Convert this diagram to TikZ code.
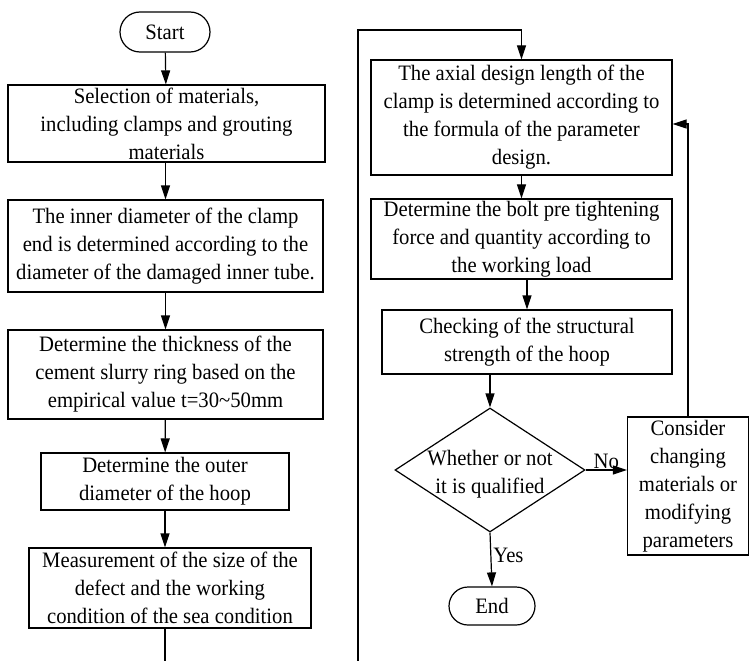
\documentclass[tikz,border=0pt]{standalone}
\usepackage{fontspec}
\setmainfont[FakeStretch=0.94]{Liberation Serif}
\usetikzlibrary{arrows.meta}
\usetikzlibrary{shapes.geometric, shapes.misc}
\tikzset{
	mytext/.style={font=\fontsize{22}{28}\selectfont},
	mybox/.style={draw, rectangle, align=center, inner sep=2pt, mytext},
	myterm/.style={draw, rounded rectangle, minimum width=94pt, minimum height=40pt, inner sep=2pt, mytext},
	mydecision/.style={draw, diamond, minimum width=190pt, minimum height=124pt, inner sep=0pt},
	myarrow/.style={-{Triangle[length=14pt, width=9pt]}}
}

\begin{document}
\begin{tikzpicture}[x=1pt, y=-1pt, line width=1.2pt]
	\useasboundingbox (0, 0) rectangle (750, 661);
	% left column
	\node[myterm] (start) at (165, 32) {Start};
	\node[mybox, minimum width=317pt, minimum height=77pt] (sel) at (166.5, 123.5)
		{Selection of materials,\\including clamps and grouting\\materials};
	\node[mybox, minimum width=315pt, minimum height=92pt] (inner) at (165.5, 246)
		{The inner diameter of the clamp\\end is determined according to the\\diameter of the damaged inner tube.};
	\node[mybox, minimum width=315pt, minimum height=89pt] (thick) at (165.5, 374.5)
		{Determine the thickness of the\\cement slurry ring based on the\\empirical value t=30\textasciitilde50mm};
	\node[mybox, minimum width=248pt, minimum height=57pt] (outer) at (165, 481.5)
		{Determine the outer\\diameter of the hoop};
	\node[mybox, minimum width=282pt, minimum height=80pt] (meas) at (170, 588)
		{Measurement of the size of the\\defect and the working\\condition of the sea condition};
	\coordinate (lend) at (165, 661);
	% right column
	\coordinate (rstart) at (358, 661);
	\coordinate (rtop) at (358, 30);
	\node[mybox, minimum width=301pt, minimum height=115pt] (axial) at (521.5, 117.5)
		{The axial design length of the\\clamp is determined according to\\the formula of the parameter\\design.};
	\node[mybox, minimum width=301pt, minimum height=78pt] (bolt) at (521.5, 239)
		{Determine the bolt pre tightening\\force and quantity according to\\the working load};
	\node[mybox, minimum width=290pt, minimum height=64pt] (check) at (527, 342)
		{Checking of the structural\\strength of the hoop};
	\node[mydecision, label={[mytext, align=center, yshift=-4pt]center:Whether or not\\it is qualified}] (qual) at (490, 470) {};
	\node[mybox, minimum width=121pt, minimum height=138pt] (modify) at (688, 486)
		{Consider\\changing\\materials or\\modifying\\parameters};
	\node[myterm, minimum width=90pt, minimum height=38pt] (end) at (492, 606) {End};

	\draw[myarrow] (start) -- (sel);
	\draw[myarrow] (sel.south -| inner.north) -- (inner.north);
	\draw[myarrow] (inner) -- (thick);
	\draw[myarrow] (thick) -- (outer);
	\draw[myarrow] (outer.south) -- (outer.south |- meas.north);
	\draw (meas.south -| lend) -- (lend);
	\draw[myarrow] (rstart) -- (rtop) -| (axial.north);
	\draw[myarrow] (axial) -- (bolt);
	\draw[myarrow] (bolt.south -| check.north) -- (check.north);
	\draw[myarrow] (check.south -| qual.north) -- (qual.north);
	\draw[myarrow] (qual.east) -- (qual.east -| modify.west) node[midway, above, mytext, inner sep=1pt] (no) {No};
	\draw[myarrow] (modify.north) |- ([yshift=-6.5pt]axial.east);
	\draw[myarrow] (qual.south) -- (end.north) node[pos=0.42, right, mytext, inner sep=2pt] (yes) {Yes};
\end{tikzpicture}
\end{document}
